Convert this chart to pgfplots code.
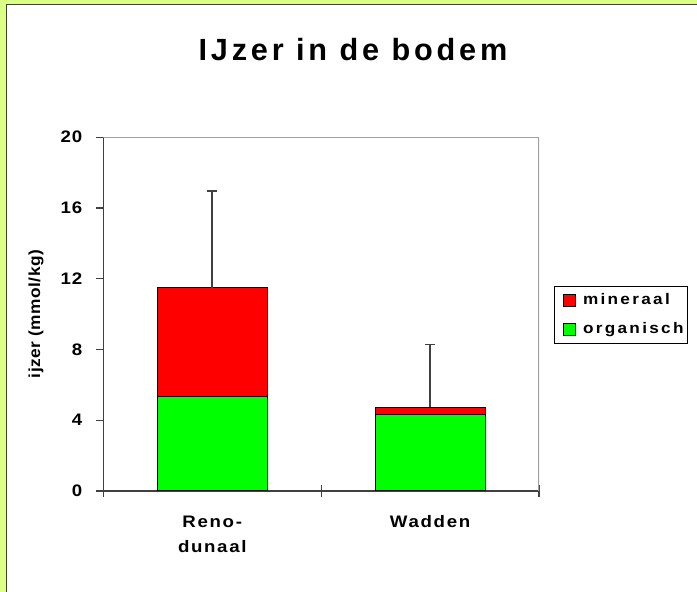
\documentclass[border=0pt]{standalone}
\usepackage{pgfplots}
\pgfplotsset{compat=1.18}
\usepackage{fontspec}
\setmainfont{Liberation Sans}
\newfontfamily\titlefont[LetterSpace=12.5]{Liberation Sans}
\newfontfamily\catfont[LetterSpace=10,FakeStretch=1.12]{Liberation Sans}
\newfontfamily\legfont[LetterSpace=15,FakeStretch=1.12]{Liberation Sans}
\newfontfamily\tickfont[LetterSpace=5,FakeStretch=1.12]{Liberation Sans}
\newfontfamily\labfont[LetterSpace=3,FakeStretch=1.08]{Liberation Sans}
\definecolor{framegreen}{HTML}{DBFF86}
\definecolor{axisdark}{HTML}{404040}
\definecolor{boxgray}{HTML}{A0A0A0}
\definecolor{minred}{HTML}{FF0000}
\definecolor{orggreen}{HTML}{00FF00}

\begin{document}
\begin{tikzpicture}
% page background and the partial outer frame (top and left only)
\fill[white] (-77.5pt,-75.75pt) rectangle (445.3pt,368.25pt);
\fill[framegreen] (-77.5pt,-75.75pt) rectangle (-73pt,368.25pt);
\fill[framegreen] (-77.5pt,365.25pt) rectangle (445.3pt,368.25pt);
\draw[axisdark, line width=1.1pt] (-72.6pt,-75.75pt) -- (-72.6pt,364.9pt) -- (445.3pt,364.9pt);

\begin{axis}[
    scale only axis,
    width=326.8pt, height=265.3pt,
    ymin=0, ymax=20,
    xmin=-0.5, xmax=1.5,
    ybar stacked,
    bar width=82.5pt,
    axis x line*=bottom, axis y line*=left,
    axis line style={draw=axisdark, line width=1.1pt, -},
    ytick={0,4,8,12,16,20},
    yticklabels={0,4,8,12,16,20},
    ytick align=outside,
    major tick length=5.25pt,
    ytick style={draw=axisdark, line width=1pt},
    xtick={0,1},
    xticklabels={{Reno-\\dunaal},{Wadden}},
    major x tick style={draw=none},
    minor xtick={-0.5,0.5,1.5},
    minor tick length=9pt,
    xtick align=center,
    minor x tick style={draw=axisdark, line width=1pt},
    yticklabel style={font=\fontsize{12.5}{14}\tickfont\bfseries, anchor=east, xshift=-7pt},
    xticklabel style={font=\fontsize{12.5}{18.75}\catfont\bfseries, align=center, anchor=north, yshift=-12.5pt},
    ylabel={ijzer (mmol/kg)},
    every axis y label/.style={at={(axis description cs:-0.1545,0.5)}, rotate=90, anchor=center,
        font=\fontsize{12}{14}\labfont\bfseries},
    title={IJzer in de bodem},
    every axis title/.style={at={(axis description cs:0.573,1.2157)}, anchor=base,
        font=\fontsize{23}{27}\titlefont\bfseries},
    reverse legend,
    legend style={at={(axis description cs:1.0344,0.5796)}, anchor=north west,
        draw=black, line width=0.6pt, inner xsep=1pt, inner ysep=3.5pt, row sep=8pt,
        font=\fontsize{11.5}{13}\legfont\bfseries, cells={anchor=west}},
    legend image code/.code={\path[draw=none, fill=none] (-6pt,0pt) -- (12.5pt,0pt);
        \draw[#1, draw=black, line width=0.6pt] (0pt,-4.5pt) rectangle (9pt,4.5pt);},
]
\addplot[fill=orggreen, draw=black, line width=0.8pt] coordinates {(0,5.33) (1,4.34)};
\addlegendentry{organisch}
\addplot[fill=minred, draw=black, line width=0.8pt,
    error bars/.cd, y dir=plus, y explicit,
    error bar style={draw=axisdark, line width=1.3pt},
    error mark options={draw=axisdark, line width=1.3pt, mark size=3.75pt, rotate=90}]
    coordinates {(0,6.15) +- (0,5.5) (1,0.39) +- (0,3.55)};
\addlegendentry{mineraal}
\draw[boxgray, line width=1.1pt] (rel axis cs:0,1) -- (rel axis cs:1,1) -- (rel axis cs:1,0);
\end{axis}
\pgfresetboundingbox
\path (-77.5pt,-75.75pt) rectangle (445.3pt,368.25pt);
\end{tikzpicture}
\end{document}
